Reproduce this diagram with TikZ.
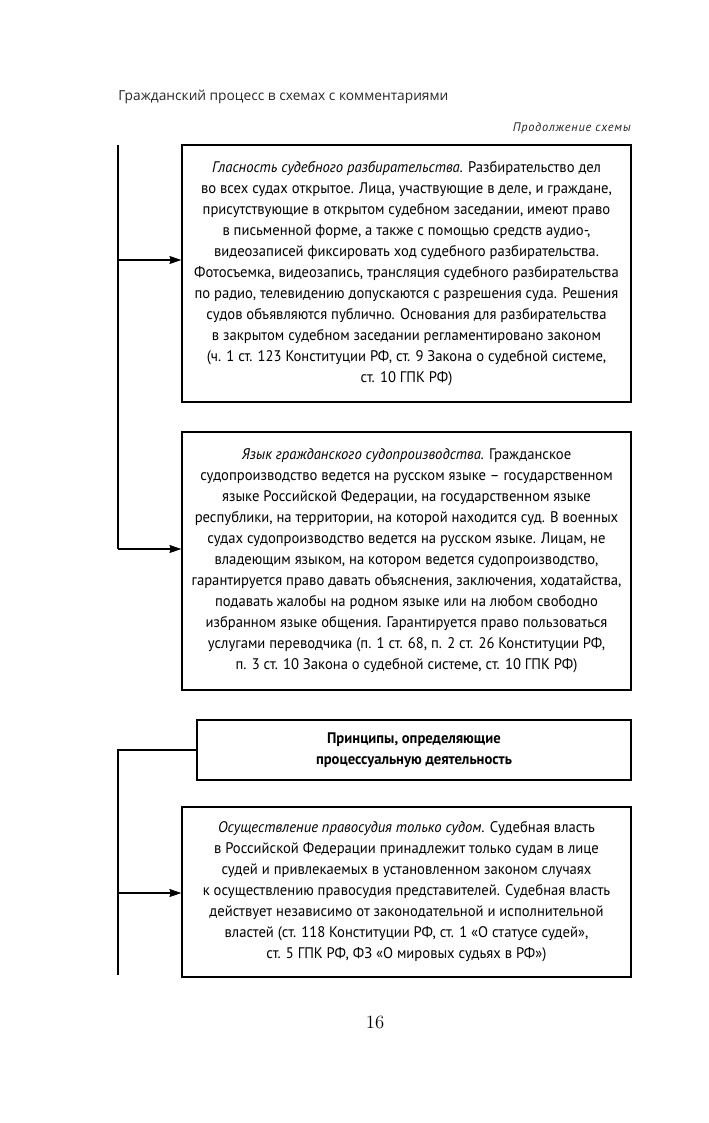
\documentclass[tikz,border=0pt]{standalone}
\usepackage{fontspec}
\setmainfont{PT Sans}[FakeStretch=0.955]
\newfontfamily\hdrfont{Open Sans}
\newfontfamily\contfont{PT Sans}[LetterSpace=6]
\newfontfamily\numfont{Latin Modern Roman}
\usetikzlibrary{arrows.meta}
\begin{document}
\begin{tikzpicture}[x=0.75pt,y=-0.75pt,
  txtbox/.style={draw,line width=0.9pt,inner sep=0pt,align=center,font=\fontsize{11.5}{15.75}\selectfont},
  conn/.style={line width=0.8pt},
  arr/.style={line width=0.8pt,-{Stealth[length=9pt,width=6pt,inset=1pt]}}]
\useasboundingbox (0,0) rectangle (709,1123);
\node[anchor=base west,inner sep=0pt,font=\hdrfont\fontsize{10.3}{12}\selectfont,text=black!85] (hdr) at (118,101) {Гражданский процесс в схемах с комментариями};
\node[anchor=base east,inner sep=0pt,font=\contfont\itshape\fontsize{9.3}{11}\selectfont,text=black!85] (cont) at (631,132) {Продолжение схемы};

\node[txtbox,minimum width=449*0.75pt,minimum height=257*0.75pt] (b1) at (406.5,273.5) {\textit{Гласность судебного разбирательства.} Разбирательство дел\\
во всех судах открытое. Лица, участвующие в деле, и граждане,\\
присутствующие в открытом судебном заседании, имеют право\\
в письменной форме, а также с помощью средств аудио-,\\
видеозаписей фиксировать ход судебного разбирательства.\\
Фотосъемка, видеозапись, трансляция судебного разбирательства\\
по радио, телевидению допускаются с разрешения суда. Решения\\
судов объявляются публично. Основания для разбирательства\\
в закрытом судебном заседании регламентировано законом\\
(ч. 1 ст. 123 Конституции РФ, ст. 9 Закона о судебной системе,\\
ст. 10 ГПК РФ)};

\node[txtbox,minimum width=449*0.75pt,minimum height=258*0.75pt] (b2) at (406.5,561) {\textit{Язык гражданского судопроизводства.} Гражданское\\
судопроизводство ведется на русском языке -- государственном\\
языке Российской Федерации, на государственном языке\\
республики, на территории, на которой находится суд. В военных\\
судах судопроизводство ведется на русском языке. Лицам, не\\
владеющим языком, на котором ведется судопроизводство,\\
гарантируется право давать объяснения, заключения, ходатайства,\\
подавать жалобы на родном языке или на любом свободно\\
избранном языке общения. Гарантируется право пользоваться\\
услугами переводчика (п. 1 ст. 68, п. 2 ст. 26 Конституции РФ,\\
п. 3 ст. 10 Закона о судебной системе, ст. 10 ГПК РФ)};

\node[txtbox,minimum width=434*0.75pt,minimum height=60*0.75pt,font=\bfseries\fontsize{11.5}{15.75}\selectfont] (b3) at (414,750) {Принципы, определяющие\\
процессуальную деятельность};

\node[txtbox,minimum width=449*0.75pt,minimum height=170*0.75pt] (b4) at (406.5,892) {\textit{Осуществление правосудия только судом.} Судебная власть\\
в Российской Федерации принадлежит только судам в лице\\
судей и привлекаемых в установленном законом случаях\\
к осуществлению правосудия представителей. Судебная власть\\
действует независимо от законодательной и исполнительной\\
властей (ст. 118 Конституции РФ, ст. 1 «О статусе судей»,\\
ст. 5 ГПК РФ, ФЗ «О мировых судьях в РФ»)};

\node[font=\numfont\fontsize{14}{16}\selectfont] (pg) at (375,1022) {16};

\coordinate (t1) at (118,145);
\coordinate (j1) at (118,260);
\coordinate (c1) at (118,549);
\coordinate (c2) at (118,750);
\coordinate (j2) at (118,893);
\coordinate (e2) at (118,975);

\draw[conn] (t1) -- (c1);
\draw[arr] (j1) -- (j1 -| b1.west);
\draw[arr] (c1) -- (c1 -| b2.west);
\draw[conn] (b3.west) -- (c2) -- (e2);
\draw[arr] (j2) -- (j2 -| b4.west);
\end{tikzpicture}
\end{document}
